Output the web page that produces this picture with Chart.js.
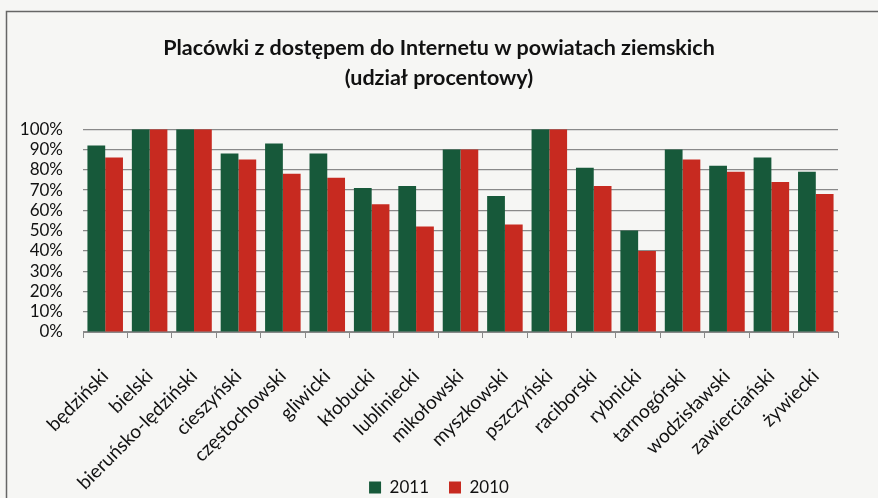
<!DOCTYPE html>
<html>
<head>
<meta charset="utf-8">
<script src="https://cdn.jsdelivr.net/npm/chart.js@4"></script>
<style>
html,body{margin:0;padding:0;background:#f4f4f2;}
#wrap{width:878px;height:498px;position:relative;}
</style>
</head>
<body>
<div id="wrap"><canvas id="c" width="878" height="498"></canvas></div>
<script>
const categories = ["będziński","bielski","bieruńsko-lędziński","cieszyński","częstochowski","gliwicki","kłobucki","lubliniecki","mikołowski","myszkowski","pszczyński","raciborski","rybnicki","tarnogórski","wodzisławski","zawierciański","żywiecki"];
const values2011 = [92,100,100,88,93,88,71,72,90,67,100,81,50,90,82,86,79];
const values2010 = [86,100,100,85,78,76,63,52,90,53,100,72,40,85,79,74,68];
const yTickStep = 10;
const yMax = 100;
const titleLines = ["Placówki z dostępem do Internetu w powiatach ziemskich","(udział procentowy)"];

const framePlugin = {
  id:'frame',
  beforeDraw(chart){
    const ctx = chart.ctx;
    ctx.save();
    ctx.fillStyle = '#f6f6f4';
    ctx.fillRect(0,0,chart.width,chart.height);
    ctx.strokeStyle = '#666';
    ctx.lineWidth = 1.5;
    ctx.beginPath();
    ctx.moveTo(6.5, chart.height);
    ctx.lineTo(6.5, 11.5);
    ctx.lineTo(chart.width, 11.5);
    ctx.stroke();
    ctx.restore();
  }
};

new Chart(document.getElementById('c'), {
  type:'bar',
  data:{
    labels:categories,
    datasets:[
      {label:'2011', data:values2011, backgroundColor:'#17593a', borderWidth:0},
      {label:'2010', data:values2010, backgroundColor:'#c72a20', borderWidth:0}
    ]
  },
  options:{
    responsive:false,
    animation:false,
    devicePixelRatio:1,
    layout:{padding:{left:0,right:0,top:0,bottom:-8}},
    datasets:{bar:{barPercentage:1, categoryPercentage:0.8}},
    plugins:{
      title:{display:true, text:titleLines, color:'#111', font:{family:'Lato', size:21.5, weight:'bold', lineHeight:1.4}, padding:{top:33,bottom:36}},
      legend:{position:'bottom', labels:{boxWidth:12, boxHeight:12, color:'#111', font:{family:'Lato', size:17}, padding:20}},
      tooltip:{enabled:false}
    },
    scales:{
      x:{
        afterFit(s){ s.height = 127; s._computeLabelArea = function(){ return undefined; }; },
        grid:{display:true, drawOnChartArea:false, drawTicks:true, tickLength:6, color:'#888', offset:true},
        border:{display:true, color:'#888', width:1},
        ticks:{color:'#111', font:{family:'Lato', size:19}, maxRotation:45, minRotation:45, padding:27, autoSkip:false}
      },
      y:{
        min:0, max:yMax,
        afterFit(s){ s.width = 83; },
        grid:{color:'#8a8a8a', drawTicks:false, lineWidth:1.2},
        border:{display:false},
        ticks:{color:'#111', font:{family:'Lato', size:17}, padding:20, stepSize:yTickStep, autoSkip:false, callback:v=>v+'%'}
      },
      yR:{
        position:'right', min:0, max:yMax,
        afterFit(s){ s.width = 40; },
        grid:{display:false, drawOnChartArea:false},
        border:{display:false},
        ticks:{display:false}
      }
    }
  },
  plugins:[framePlugin]
});
</script>
</body>
</html>
